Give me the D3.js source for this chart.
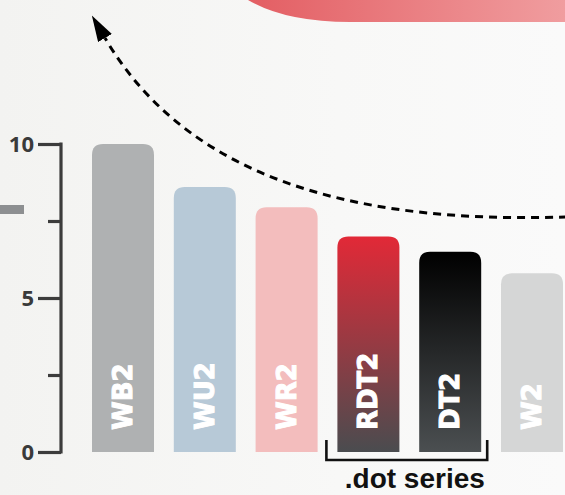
<!DOCTYPE html>
<html>
<head>
<meta charset="utf-8">
<script src="https://cdn.jsdelivr.net/npm/d3@7/dist/d3.min.js"></script>
<style>
  html, body { margin: 0; padding: 0; background: #f7f7f5; }
  svg { display: block; }
</style>
</head>
<body>
<svg id="chart" width="565" height="495"></svg>
<script>
// ---- data ----
const categories = ["WB2", "WU2", "WR2", "RDT2", "DT2", "W2"];
const values = [10, 8.6, 7.95, 7.0, 6.5, 5.8];
const yTicks = [0, 2.5, 5, 7.5, 10];
const yTickLabels = ["0", "", "5", "", "10"];
const groupLabel = ".dot series";
const groupMembers = ["RDT2", "DT2"];

const fills = {
  WB2: "#afb1b2",
  WU2: "#b7c9d7",
  WR2: "#f3bdbd",
  RDT2: "url(#gradRDT2)",
  DT2: "url(#gradDT2)",
  W2: "#d5d6d6"
};

const svg = d3.select("#chart");
const W = 565, H = 495;
const defs = svg.append("defs");

// background
const bg = defs.append("linearGradient").attr("id", "bgGrad").attr("x1", 0).attr("x2", 1).attr("y1", 0).attr("y2", 0);
bg.append("stop").attr("offset", "0%").attr("stop-color", "#f3f3f1");
bg.append("stop").attr("offset", "60%").attr("stop-color", "#f8f8f7");
bg.append("stop").attr("offset", "100%").attr("stop-color", "#fafafa");
svg.append("rect").attr("width", W).attr("height", H).attr("fill", "url(#bgGrad)");

// top decorative red shape
const topG = defs.append("linearGradient").attr("id", "topGrad").attr("x1", 0).attr("x2", 1).attr("y1", 0).attr("y2", 0);
topG.append("stop").attr("offset", "0%").attr("stop-color", "#e35e63");
topG.append("stop").attr("offset", "100%").attr("stop-color", "#f09d9f");
svg.append("path")
  .attr("d", "M248,0 Q285,22 350,22 L565,22 L565,0 Z")
  .attr("fill", "url(#topGrad)");

// left gray stub
svg.append("rect").attr("x", 0).attr("y", 205).attr("width", 24).attr("height", 9).attr("fill", "#8d8f91");

// gradients for bars
const g1 = defs.append("linearGradient").attr("id", "gradRDT2").attr("x1", 0).attr("x2", 0).attr("y1", 0).attr("y2", 1);
g1.append("stop").attr("offset", "0%").attr("stop-color", "#e22937");
g1.append("stop").attr("offset", "100%").attr("stop-color", "#4a4c4f");
const g2 = defs.append("linearGradient").attr("id", "gradDT2").attr("x1", 0).attr("x2", 0).attr("y1", 0).attr("y2", 1);
g2.append("stop").attr("offset", "0%").attr("stop-color", "#000000");
g2.append("stop").attr("offset", "100%").attr("stop-color", "#4b4f51");

// scales
const x = d3.scaleBand().domain(categories).range([92, 563]).paddingInner(0.242).paddingOuter(0);
const y = d3.scaleLinear().domain([0, 10]).range([452, 144]);

// arrow marker
defs.append("marker")
  .attr("id", "arrowHead")
  .attr("viewBox", "0 0 10 10")
  .attr("preserveAspectRatio", "none")
  .attr("refX", 0).attr("refY", 5)
  .attr("markerWidth", 26).attr("markerHeight", 16)
  .attr("markerUnits", "userSpaceOnUse")
  .attr("orient", "auto")
  .append("path").attr("d", "M0,0 L10,5 L0,10 Z").attr("fill", "#000");

// dashed curved arrow
svg.append("path")
  .attr("d", "M567,217 C400,222 200,200 105,38")
  .attr("fill", "none")
  .attr("stroke", "#000")
  .attr("stroke-width", 3)
  .attr("stroke-dasharray", "8,6")
  .attr("marker-end", "url(#arrowHead)");

// bars
const r = 11;
function barPath(x0, w, yTop, yBase) {
  return `M${x0},${yBase} V${yTop + r} Q${x0},${yTop} ${x0 + r},${yTop} H${x0 + w - r} Q${x0 + w},${yTop} ${x0 + w},${yTop + r} V${yBase} Z`;
}
const data = categories.map((c, i) => ({ c, v: values[i] }));
svg.append("g").selectAll("path").data(data).join("path")
  .attr("d", d => barPath(x(d.c), x.bandwidth(), y(d.v), y(0)))
  .attr("fill", d => fills[d.c]);

// bar labels
svg.append("g").selectAll("text").data(data).join("text")
  .attr("transform", d => `translate(${x(d.c) + x.bandwidth() / 2},430) rotate(-90)`)
  .attr("text-anchor", "start")
  .attr("dominant-baseline", "central")
  .attr("fill", "#ffffff")
  .attr("stroke", "#ffffff")
  .attr("stroke-width", 1)
  .style("font-family", "'DejaVu Sans', sans-serif")
  .style("font-weight", 700)
  .style("font-size", "26px")
  .text(d => d.c);

// y axis
const axis = d3.axisLeft(y).tickValues(yTicks).tickFormat((d, i) => yTickLabels[i]).tickSizeOuter(0);
const ag = svg.append("g").attr("transform", "translate(61,0)").call(axis);
ag.select(".domain").attr("stroke", "#3c3c3c").attr("stroke-width", 3.2).attr("d", `M0,${y(10) - 1.5}V${y(0) + 1.5}`);
ag.selectAll(".tick line")
  .attr("stroke", "#3c3c3c").attr("stroke-width", 3.2)
  .attr("x2", (d, i) => yTickLabels[i] ? -23 : -13);
ag.selectAll(".tick text")
  .attr("x", -27)
  .attr("fill", "#3a3a3a")
  .style("font-family", "'Open Sans', sans-serif")
  .style("font-weight", 700)
  .style("font-size", "22px");

// group bracket
const gx0 = x(groupMembers[0]) - 11;
const gx1 = x(groupMembers[groupMembers.length - 1]) + x.bandwidth() + 6;
svg.append("path")
  .attr("d", `M${gx0},440 V460 H${gx1} V440`)
  .attr("fill", "none")
  .attr("stroke", "#111")
  .attr("stroke-width", 2.6);
svg.append("text")
  .attr("x", (gx0 + gx1) / 2 + 8)
  .attr("y", 488)
  .attr("text-anchor", "middle")
  .attr("fill", "#111")
  .style("font-family", "'Liberation Sans', Arial, sans-serif")
  .style("font-weight", 700)
  .style("font-size", "28px")
  .text(groupLabel);
</script>
</body>
</html>
